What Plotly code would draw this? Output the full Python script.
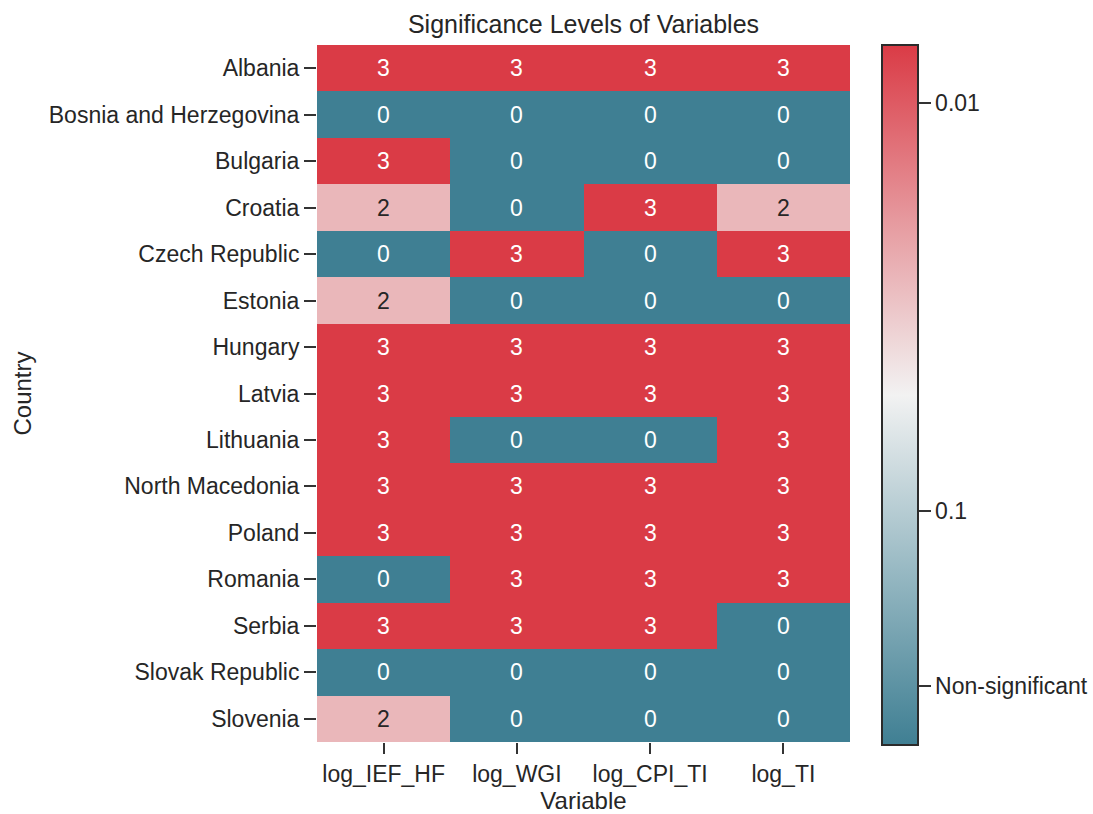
import plotly.graph_objects as go

countries = ["Albania", "Bosnia and Herzegovina", "Bulgaria", "Croatia", "Czech Republic",
             "Estonia", "Hungary", "Latvia", "Lithuania", "North Macedonia", "Poland",
             "Romania", "Serbia", "Slovak Republic", "Slovenia"]
variables = ["log_IEF_HF", "log_WGI", "log_CPI_TI", "log_TI"]
values = [
    [3, 3, 3, 3],
    [0, 0, 0, 0],
    [3, 0, 0, 0],
    [2, 0, 3, 2],
    [0, 3, 0, 3],
    [2, 0, 0, 0],
    [3, 3, 3, 3],
    [3, 3, 3, 3],
    [3, 0, 0, 3],
    [3, 3, 3, 3],
    [3, 3, 3, 3],
    [0, 3, 3, 3],
    [3, 3, 3, 0],
    [0, 0, 0, 0],
    [2, 0, 0, 0],
]
cbar_tickvals = [0.25, 1.0, 2.75]
cbar_ticktext = ["Non-significant", "0.1", "0.01"]

colorscale = [
    [0.0, "#3f7f93"],
    [0.25, "#98b9c3"],
    [0.5, "#f2f2f2"],
    [0.75, "#e6999e"],
    [1.0, "#da3b46"],
]

font_family = "Liberation Sans, Arial, sans-serif"
fig = go.Figure()
fig.add_trace(go.Heatmap(
    z=values, x=variables, y=countries, zmin=0, zmax=3,
    colorscale=colorscale, xgap=0, ygap=0, hoverinfo="skip",
    colorbar=dict(
        tickvals=cbar_tickvals, ticktext=cbar_ticktext,
        thickness=36, len=1.004, lenmode="fraction", y=0.4985, yanchor="middle",
        x=1.06, xanchor="left", xpad=0, ypad=0,
        outlinewidth=2, outlinecolor="#2b2b2b",
        ticks="outside", ticklen=12, tickwidth=2, tickcolor="#333",
        tickfont=dict(size=23, color="#262626", family=font_family),
    ),
))

for i, c in enumerate(countries):
    for j, v in enumerate(variables):
        val = values[i][j]
        fig.add_annotation(
            x=v, y=c, text=str(val), showarrow=False,
            font=dict(size=23, family=font_family,
                      color="#262626" if val == 2 else "white"),
        )

fig.update_layout(
    width=1093, height=814,
    margin=dict(l=317, r=243, t=45, b=72, autoexpand=False),
    plot_bgcolor="white", paper_bgcolor="white",
    font=dict(family=font_family, color="#262626", size=23),
    title=dict(text="Significance Levels of Variables", x=(317 + 850) / 2 / 1093,
               xanchor="center", y=1 - 24 / 814, yanchor="middle",
               font=dict(size=25, color="#262626")),
)
fig.update_xaxes(
    title=dict(text="Variable", font=dict(size=24), standoff=6),
    ticks="outside", ticklen=11, tickwidth=2, tickcolor="#333", automargin=False,
    tickfont=dict(size=23), showgrid=False, zeroline=False, showline=False,
)
fig.update_yaxes(
    title=dict(text="Country", font=dict(size=24), standoff=10),
    autorange="reversed", automargin=False,
    ticks="outside", ticklen=12, tickwidth=2, tickcolor="#333",
    tickfont=dict(size=23), showgrid=False, zeroline=False, showline=False,
)

fig.write_html("out.html")
